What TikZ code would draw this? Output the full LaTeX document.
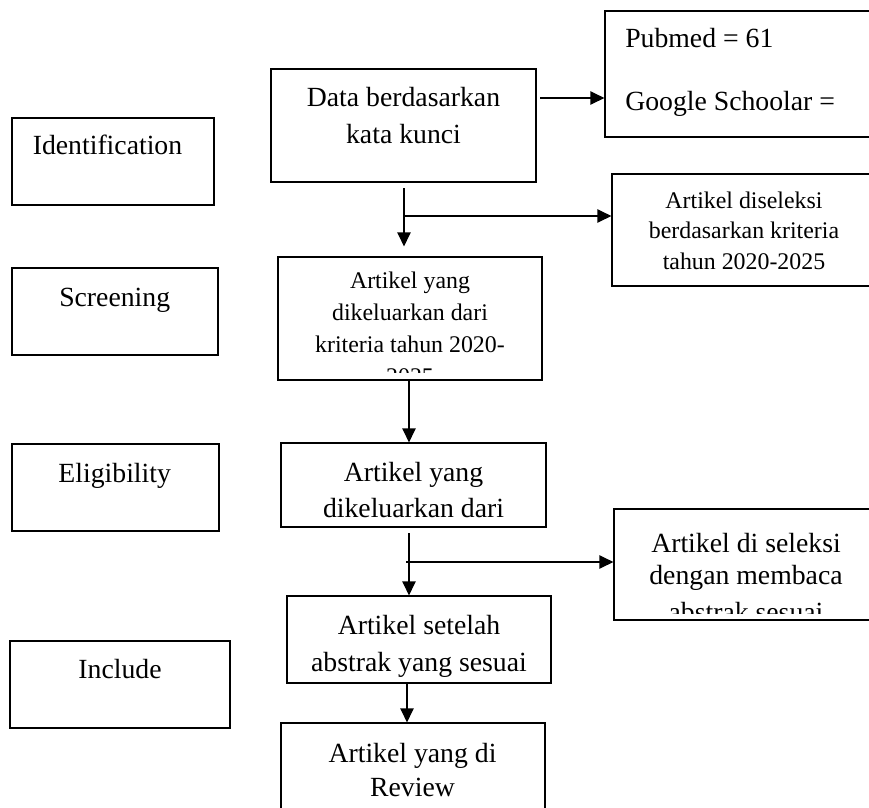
\documentclass[tikz,border=0pt]{standalone}
\usepackage{fontspec}
\setmainfont{Liberation Serif}
\usetikzlibrary{arrows.meta,calc}
\begin{document}
\begin{tikzpicture}[x=0.75pt,y=-0.75pt,
  box/.style={draw=black, line width=0.9pt, inner sep=0pt, fill=none},
  bx/.style 2 args={minimum width=#1*0.75pt, minimum height=#2*0.75pt},
  big/.style={font=\fontsize{20.8}{25}\selectfont, inner sep=0pt, anchor=base},
  small/.style={font=\fontsize{17.9}{22}\selectfont, inner sep=0pt, anchor=base},
  arr/.style={line width=0.9pt, -{Triangle[length=10.5pt,width=10pt]}},
]
\clip (0,0) rectangle (869,808);
\fill[white] (0,0) rectangle (869,808);

% left stage boxes
\node[box, bx={202}{87}] (ident) at (113,161.5) {};
\node[box, bx={206}{87}] (screen) at (115,311.5) {};
\node[box, bx={207}{87}] (elig) at (115.5,487.5) {};
\node[box, bx={220}{87}] (incl) at (120,684.5) {};
\node[big] (identT) at (107.5,154.7) {Identification};
\node[big] (screenT) at (114.7,306.7) {Screening};
\node[big] (eligT) at (114.7,482.7) {Eligibility};
\node[big] (inclT) at (120,678.7) {Include};

% main column
\node[box, bx={265}{113}] (data) at (403.5,125.5) {};
\node[big] (dataT1) at (403.5,106.7) {Data berdasarkan};
\node[big] (dataT2) at (403.5,143.7) {kata kunci};

\node[box, bx={264}{123}] (scrc) at (410,318.5) {};
\node[small] (scrcT1) at (410,288.4) {Artikel yang};
\node[small] (scrcT2) at (410,320.4) {dikeluarkan dari};
\node[small] (scrcT3) at (410,352.4) {kriteria tahun 2020-};
\begin{scope}
  \clip (278,257) rectangle (542,372);
  \node[small] (scrcT4) at (410,384.5) {2025};
\end{scope}

\node[box, bx={265}{84}] (eligc) at (413.5,485) {};
\node[big] (eligcT1) at (413.5,481.7) {Artikel yang};
\node[big] (eligcT2) at (413.5,517.7) {dikeluarkan dari};

\node[box, bx={264}{87}] (setelah) at (419,639.5) {};
\node[big] (setelahT1) at (419,634.7) {Artikel setelah};
\node[big] (setelahT2) at (419,671.7) {abstrak yang sesuai};

\node[box, bx={264}{117}] (review) at (413,781.5) {};
\node[big] (reviewT1) at (412.5,762.7) {Artikel yang di};
\node[big] (reviewT2) at (412.5,796.7) {Review};

% right column
\node[box, bx={264.5}{126}] (pubmed) at (737.25,74) {};
\node[big, anchor=base west] (pubmedT1) at (625,47.7) {Pubmed = 61};
\node[big, anchor=base west] (pubmedT2) at (625,110.7) {Google Schoolar =};

\node[box, bx={257.5}{112}] (selA) at (740.75,230) {};
\node[small] (selAT1) at (744,208.4) {Artikel diseleksi};
\node[small] (selAT2) at (744,238.4) {berdasarkan kriteria};
\node[small] (selAT3) at (744,269.4) {tahun 2020-2025};

\node[box, bx={255.5}{111}] (selB) at (741.75,564.5) {};
\node[big] (selBT1) at (746,552.7) {Artikel di seleksi};
\node[big] (selBT2) at (746,584.7) {dengan membaca};
\begin{scope}
  \clip (614,509) rectangle (869,613);
  \node[big] (selBT3) at (746,621.5) {abstrak sesuai};
\end{scope}

% connectors
\coordinate (a1) at (540,98);
\draw[arr] (a1) -- (a1 -| pubmed.west);
\coordinate (a2) at (404,188);
\draw[arr] (a2) -- ($(a2 |- scrc.north)+(0,-10)$);
\coordinate (a3) at (404,216);
\draw[arr] (a3) -- (a3 -| selA.west);
\coordinate (a4) at (409,380);
\draw[arr] (a4) -- (a4 |- eligc.north);
\coordinate (a5) at (409,533);
\draw[arr] (a5) -- (a5 |- setelah.north);
\coordinate (a6) at (406,562);
\draw[arr] (a6) -- (a6 -| selB.west);
\coordinate (a7) at (407,683);
\draw[arr] (a7) -- (a7 |- review.north);
\end{tikzpicture}
\end{document}
